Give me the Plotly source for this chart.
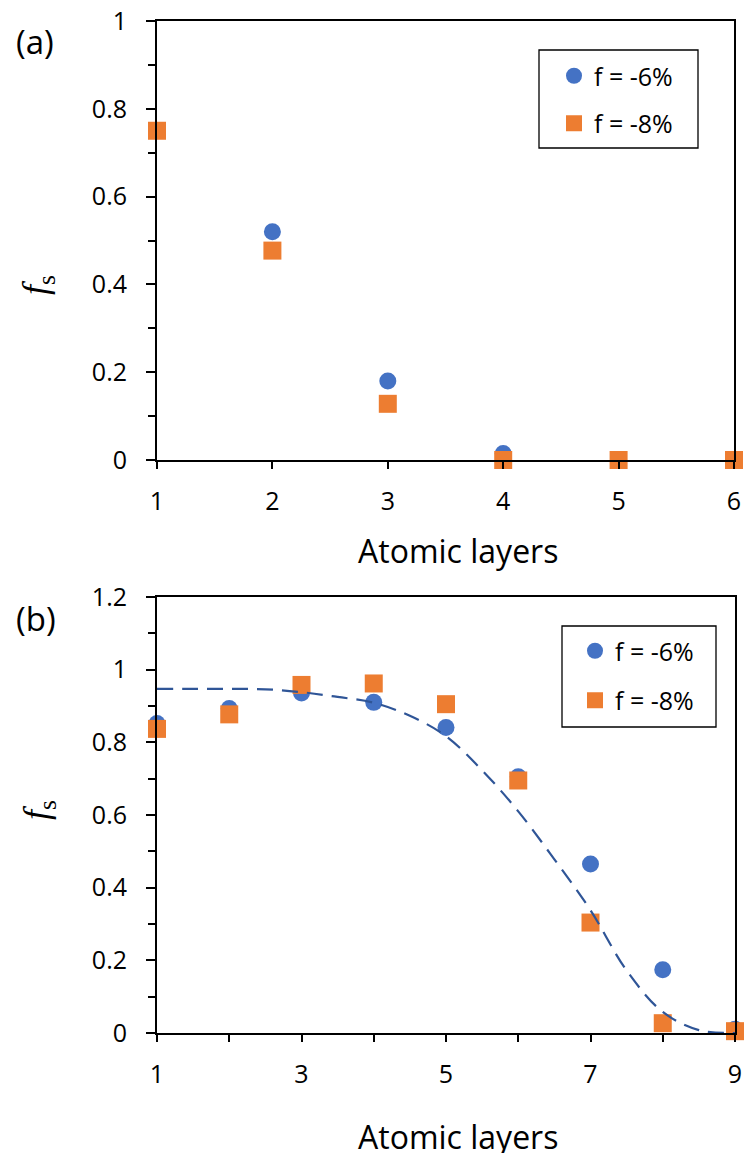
import plotly.graph_objects as go

W, H = 744, 1153

# ---- data: panel (a) ----
a_x6 = [1, 2, 3, 4, 5, 6]
a_y6 = [0.75, 0.52, 0.18, 0.015, 0.0, 0.0]
a_x8 = [1, 2, 3, 4, 5, 6]
a_y8 = [0.75, 0.477, 0.128, 0.0, 0.0, 0.0]

# ---- data: panel (b) ----
b_x6 = [1, 2, 3, 4, 5, 6, 7, 8, 9]
b_y6 = [0.852, 0.893, 0.936, 0.91, 0.841, 0.705, 0.465, 0.174, 0.01]
b_x8 = [1, 2, 3, 4, 5, 6, 7, 8, 9]
b_y8 = [0.837, 0.877, 0.958, 0.962, 0.905, 0.695, 0.304, 0.027, 0.005]

# dashed guide curve
fit_x = [1, 1.5, 2, 2.5, 3, 3.5, 4, 4.5, 5, 5.5, 6, 6.5, 7, 7.5, 8, 8.5, 9]
fit_y = [0.947, 0.947, 0.947, 0.946, 0.938, 0.925, 0.909, 0.873, 0.817, 0.723,
         0.61, 0.478, 0.338, 0.172, 0.058, 0.008, 0.0]

legend_names = ["f = -6%", "f = -8%"]
a_yticks = [0, 0.2, 0.4, 0.6, 0.8, 1]
b_xticks = [1, 3, 5, 7, 9]
b_yticks = [0, 0.2, 0.4, 0.6, 0.8, 1, 1.2]

BLUE = "#4472C4"
ORANGE = "#ED7D31"
DARKBLUE = "#2F5597"
FONT = "Open Sans"

def px_x(p):
    return p / W

def px_y(p):
    return 1 - p / H

fig = go.Figure()

# panel (a)
fig.add_trace(go.Scatter(x=a_x6, y=a_y6, mode="markers", name=legend_names[0],
                         marker=dict(symbol="circle", size=17, color=BLUE),
                         xaxis="x", yaxis="y", legend="legend", legendgroup="a6",
                         cliponaxis=False))
fig.add_trace(go.Scatter(x=a_x8, y=a_y8, mode="markers", name=legend_names[1],
                         marker=dict(symbol="square", size=18, color=ORANGE),
                         xaxis="x", yaxis="y", legend="legend", legendgroup="a8",
                         cliponaxis=False))

# panel (b)
fig.add_trace(go.Scatter(x=b_x6, y=b_y6, mode="markers", name=legend_names[0],
                         marker=dict(symbol="circle", size=17, color=BLUE),
                         xaxis="x2", yaxis="y2", legend="legend2", legendgroup="b6",
                         cliponaxis=False))
fig.add_trace(go.Scatter(x=b_x8, y=b_y8, mode="markers", name=legend_names[1],
                         marker=dict(symbol="square", size=18, color=ORANGE),
                         xaxis="x2", yaxis="y2", legend="legend2", legendgroup="b8",
                         cliponaxis=False))
fig.add_trace(go.Scatter(x=fit_x, y=fit_y, mode="lines", showlegend=False,
                         line=dict(color=DARKBLUE, width=2.2, dash="16px,9px",
                                   shape="spline", smoothing=1.0),
                         xaxis="x2", yaxis="y2", cliponaxis=False))

axis_common = dict(showline=True, linecolor="black", linewidth=2, mirror=True,
                   showgrid=False, zeroline=False, ticks="outside",
                   tickcolor="black", tickwidth=2, automargin=False,
                   tickfont=dict(family=FONT, size=25, color="black"))


def ann(text, x, y, size, family=FONT, angle=0):
    return dict(text=text, x=px_x(x), y=px_y(y), xref="paper", yref="paper",
                xanchor="center", yanchor="middle", showarrow=False,
                textangle=angle, font=dict(family=family, size=size, color="black"))


fig.update_layout(
    width=W, height=H,
    margin=dict(l=0, r=0, t=0, b=0, pad=0, autoexpand=False),
    paper_bgcolor="white", plot_bgcolor="white",
    showlegend=True,
    xaxis=dict(domain=[px_x(157), px_x(734)], range=[1, 6], dtick=1, tick0=1,
               ticklen=7, anchor="y", ticklabelstandoff=11, **axis_common),
    yaxis=dict(domain=[px_y(460), px_y(21)], range=[0, 1], tickvals=a_yticks,
               ticklen=9, anchor="x", ticklabelstandoff=14,
               minor=dict(dtick=0.1, ticks="outside", ticklen=7, tickwidth=2,
                          tickcolor="black", showgrid=False),
               **axis_common),
    xaxis2=dict(domain=[px_x(157), px_x(735)], range=[1, 9], tickvals=b_xticks,
                ticklen=7, anchor="y2", ticklabelstandoff=11,
                minor=dict(dtick=1, tick0=1, ticks="outside", ticklen=7, tickwidth=2,
                           tickcolor="black", showgrid=False),
                **axis_common),
    yaxis2=dict(domain=[px_y(1033), px_y(597)], range=[0, 1.2], tickvals=b_yticks,
                ticklen=9, anchor="x2", ticklabelstandoff=14,
                minor=dict(dtick=0.1, ticks="outside", ticklen=7, tickwidth=2,
                           tickcolor="black", showgrid=False),
                **axis_common),
    legend=dict(x=px_x(554), y=px_y(53), xanchor="left", yanchor="top",
                bgcolor="rgba(0,0,0,0)", borderwidth=0, tracegroupgap=12,
                font=dict(family=FONT, size=25, color="black")),
    legend2=dict(x=px_x(575), y=px_y(628), xanchor="left", yanchor="top",
                 bgcolor="rgba(0,0,0,0)", borderwidth=0, tracegroupgap=14,
                 font=dict(family=FONT, size=25, color="black")),
    shapes=[
        dict(type="rect", xref="paper", yref="paper",
             x0=px_x(539), x1=px_x(698), y0=px_y(148), y1=px_y(50),
             line=dict(color="black", width=1.3), fillcolor="rgba(0,0,0,0)"),
        dict(type="rect", xref="paper", yref="paper",
             x0=px_x(562), x1=px_x(716), y0=px_y(727), y1=px_y(626),
             line=dict(color="black", width=1.3), fillcolor="rgba(0,0,0,0)"),
    ],
    annotations=[
        ann("(a)", 35, 41, 33),
        ann("(b)", 36, 618, 33),
        ann("Atomic layers", 458, 550, 32),
        ann("Atomic layers", 458, 1136, 32),
        ann("<i>f</i><sub>s</sub>", 38, 285, 36, "Liberation Serif", -90),
        ann("<i>f</i><sub>s</sub>", 38, 810, 36, "Liberation Serif", -90),
    ],
)

fig.write_html("out.html")
